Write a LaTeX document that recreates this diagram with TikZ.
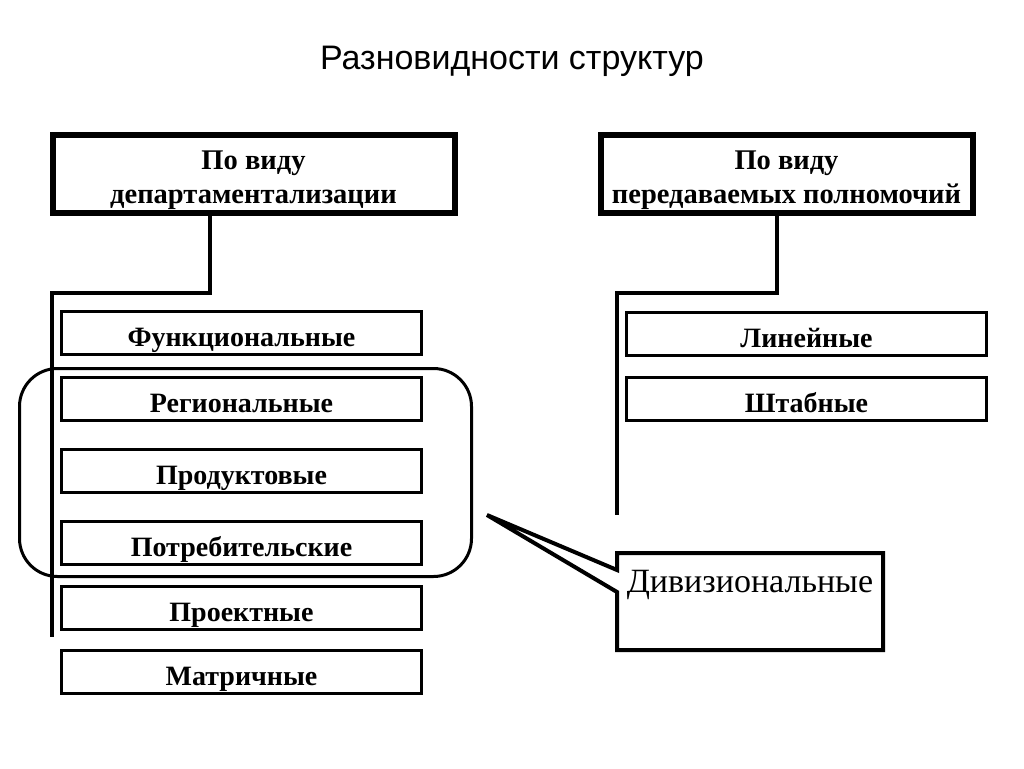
\documentclass[tikz,border=0pt]{standalone}
\usepackage{fontspec}
\setmainfont{Liberation Serif}
\newfontfamily\titlefont{Liberation Sans}
\begin{document}
\begin{tikzpicture}[x=1pt,y=-1pt,
  headbox/.style={draw,line width=6pt,minimum width=402pt,minimum height=78pt,inner sep=0pt},
  headtext/.style={inner sep=0pt,align=center,font=\bfseries\fontsize{28.5}{34}\selectfont},
  itembox/.style={draw,line width=3pt,minimum width=360pt,minimum height=43pt,inner sep=0pt,
     text height=27pt,text depth=0pt,font=\bfseries\fontsize{28}{30}\selectfont},
  conn/.style={line width=4.5pt},
]
\useasboundingbox (0,0) rectangle (1024,768);
\node[font=\titlefont\fontsize{34}{40}\selectfont] (title) at (512,61) {Разновидности структур};

\node[headbox] (lh) at (253.5,173.5) {};
\node[headtext] (lht) at ([yshift=-7pt]lh.center) {По виду\\департаментализации};
\node[headbox,minimum width=372pt] (rh) at (786.5,173.5) {};
\node[headtext] (rht) at ([yshift=-7pt]rh.center) {По виду\\передаваемых полномочий};

\node[itembox] (f1) at (241.5,333) {Функциональные};
\node[itembox] (f2) at (241.5,398.5) {Региональные};
\node[itembox] (f3) at (241.5,470.5) {Продуктовые};
\node[itembox] (f4) at (241.5,542.5) {Потребительские};
\node[itembox] (f5) at (241.5,607.5) {Проектные};
\node[itembox] (f6) at (241.5,671.5) {Матричные};

\node[itembox] (r1) at (806.5,333.5) {Линейные};
\node[itembox] (r2) at (806.5,398.5) {Штабные};

% left connector
\coordinate (lbend) at (210,293);
\coordinate (lcorner) at (50,293);
\coordinate (lspine) at (52,293);
\coordinate (lend) at (52,637);
\draw[conn] (lh.south -| lbend) -- (lbend) -- (lcorner);
\draw[conn] (lspine) -- (lend);

% right connector
\coordinate (rbend) at (777,293);
\coordinate (rcorner) at (615,293);
\coordinate (rspine) at (617,293);
\coordinate (rend) at (617,515);
\draw[conn] (rh.south -| rbend) -- (rbend) -- (rcorner);
\draw[conn] (rspine) -- (rend);

% grouping rounded rectangle
\draw[line width=3pt,rounded corners=38pt] (19.5,368.5) rectangle (471.5,576.5);

% callout
\coordinate (tip) at (487,515);
\draw[line width=4pt,line join=miter,fill=white] (617,553) -- (883,553) -- (883,650) -- (617,650) -- (617,592) -- (tip) -- (617,570) -- cycle;
\node[font=\fontsize{34}{38}\selectfont,inner sep=0pt] (div) at (750,585) {Дивизиональные};
\end{tikzpicture}
\end{document}
